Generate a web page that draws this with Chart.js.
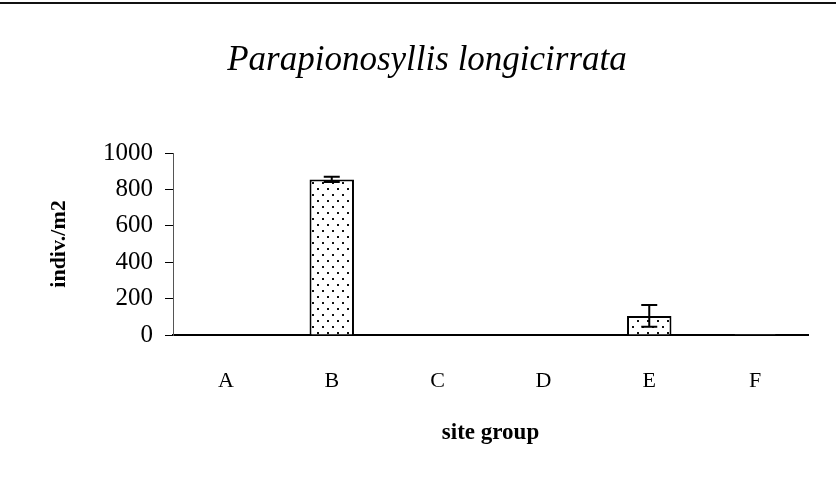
<!DOCTYPE html>
<html>
<head>
<meta charset="utf-8">
<script src="https://cdn.jsdelivr.net/npm/chart.js@4/dist/chart.umd.min.js"></script>
<style>
  html, body { margin: 0; padding: 0; background: #fff; }
  #wrap { width: 836px; height: 482px; }
</style>
</head>
<body>
<div id="wrap"><canvas id="chart" width="836" height="482"></canvas></div>
<script>
// chart values
const siteGroups = ['A', 'B', 'C', 'D', 'E', 'F'];
const meanDensity = [3, 855, 2, 2, 105, 5];
const errDensity = [0, 14, 0, 0, 60, 0];
const yTicks = [0, 200, 400, 600, 800, 1000];

// dotted fill like the old stippled bars
function makeDots() {
    const c = document.createElement('canvas');
    c.width = 10;
    c.height = 12;
    const g = c.getContext('2d');
    g.fillStyle = '#fff';
    g.fillRect(0, 0, 10, 12);
    g.fillStyle = '#111';
    g.fillRect(2, 2, 2, 2);
    g.fillRect(7, 8, 2, 2);
    return g.createPattern(c, 'repeat');
}

// top rule across the page
const topRule = {
    id: 'topRule',
    beforeDraw(chart) {
        const ctx = chart.ctx;
        ctx.save();
        ctx.strokeStyle = '#111';
        ctx.lineWidth = 2;
        ctx.beginPath();
        ctx.moveTo(0, 3);
        ctx.lineTo(chart.width, 3);
        ctx.stroke();
        ctx.restore();
    }
};

// error bars drawn from the data arrays
const errorBars = {
    id: 'errorBars',
    afterDatasetsDraw(chart) {
        const ctx = chart.ctx;
        const y = chart.scales.y;
        const meta = chart.getDatasetMeta(0);
        ctx.save();
        ctx.strokeStyle = '#000';
        ctx.lineWidth = 2;
        meta.data.forEach((bar, i) => {
            const e = errDensity[i];
            if (!e) return;
            const top = y.getPixelForValue(meanDensity[i] + e);
            const bot = y.getPixelForValue(meanDensity[i] - e);
            ctx.beginPath();
            ctx.moveTo(bar.x, top);
            ctx.lineTo(bar.x, bot);
            ctx.moveTo(bar.x - 8, top);
            ctx.lineTo(bar.x + 8, top);
            ctx.moveTo(bar.x - 8, bot);
            ctx.lineTo(bar.x + 8, bot);
            ctx.stroke();
        });
        ctx.restore();
    }
};

const serif = "'Liberation Serif', 'DejaVu Serif', serif";

new Chart(document.getElementById('chart'), {
    type: 'bar',
    data: {
        labels: siteGroups,
        datasets: [{
            data: meanDensity,
            backgroundColor: makeDots(),
            borderColor: '#000',
            borderWidth: 2,
            borderSkipped: 'bottom',
            barPercentage: 0.42,
            categoryPercentage: 1
        }]
    },
    options: {
        responsive: false,
        animation: false,
        layout: { padding: { left: 46, right: 28, top: 0, bottom: 0 } },
        plugins: {
            legend: { display: false },
            tooltip: { enabled: false },
            title: {
                display: true,
                text: 'Parapionosyllis longicirrata',
                color: '#000',
                font: { family: serif, size: 35, style: 'italic', weight: 'normal' },
                padding: { top: 40, bottom: 71 }
            }
        },
        scales: {
            x: {
                grid: { display: false },
                border: { color: '#000', width: 2 },
                ticks: {
                    color: '#000',
                    padding: 25,
                    font: { family: serif, size: 22 }
                },
                title: {
                    display: true,
                    text: 'site group',
                    color: '#000',
                    font: { family: serif, size: 23, weight: 'bold' },
                    padding: { top: 20, bottom: 35 }
                },
                afterFit(scale) { scale.height = 147; }
            },
            y: {
                min: 0,
                max: 1000,
                afterBuildTicks(scale) { scale.ticks = yTicks.map(v => ({ value: v })); },
                grid: {
                    drawOnChartArea: false,
                    color: '#000',
                    tickLength: 8,
                    lineWidth: 1
                },
                border: { color: '#555', width: 1, dash: [1, 3] },
                ticks: {
                    color: '#000',
                    padding: 12,
                    font: { family: serif, size: 25 },
                    callback: v => String(v)
                },
                title: {
                    display: true,
                    text: 'indiv./m2',
                    color: '#000',
                    font: { family: serif, size: 22, weight: 'bold' },
                    padding: { top: 0, bottom: 0 }
                },
                afterFit(scale) { scale.width = 127; }
            }
        }
    },
    plugins: [topRule, errorBars]
});
</script>
</body>
</html>
